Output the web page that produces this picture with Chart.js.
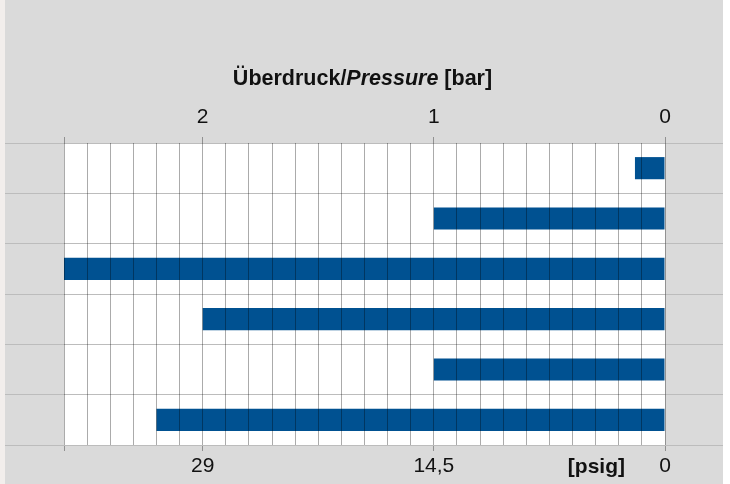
<!DOCTYPE html>
<html>
<head>
<meta charset="utf-8">
<script src="https://cdn.jsdelivr.net/npm/chart.js@4"></script>
<style>
  html, body { margin: 0; padding: 0; background: #fff; }
  #wrap { width: 730px; height: 484px; }
</style>
</head>
<body>
<div id="wrap"><canvas id="pressureChart" width="730" height="484"></canvas></div>
<script>
// Overpressure per row, in bar
const rows = ['1', '2', '3', '4', '5', '6'];
const pressureBar = [0.13, 1.0, 2.6, 2.0, 1.0, 2.2];

// Axis range and the labelled ticks (bar on top, psig below)
const barMin = 0;
const barMax = 2.6;
const barStep = 0.1;
const barTicks = [0, 1, 2];
const psigTicks = ['0', '14,5', '29'];

const FONT = '"Liberation Sans", Arial, Helvetica, sans-serif';
const GRID = 'rgba(0, 0, 0, 0.33)';
const ROW_LINE = '#bcbcbc';
const TICK = '#909090';

Chart.defaults.font.family = FONT;
Chart.defaults.font.size = 21;
Chart.defaults.color = '#111';

function tickIndex(v) {
    return barTicks.findIndex(t => Math.abs(t - v) < 1e-6);
}

function isMarked(v) {
    return tickIndex(v) >= 0 || Math.abs(v - barMin) < 1e-6 || Math.abs(v - barMax) < 1e-6;
}

// Page background, white plot area, title and unit label
const decorations = {
    id: 'decorations',
    beforeDraw(chart) {
        const { ctx, chartArea } = chart;
        const left = chart.scales.y.left;
        const right = chart.scales.y2.right;
        ctx.save();
        ctx.fillStyle = '#f2eeec';
        ctx.fillRect(0, 0, left, chart.height);
        ctx.fillStyle = '#dadada';
        ctx.fillRect(left, 0, right - left, chart.height);
        ctx.fillStyle = '#ffffff';
        ctx.fillRect(chartArea.left, chartArea.top, chartArea.width, chartArea.height);
        ctx.restore();
    },
    afterDraw(chart) {
        const { ctx, chartArea } = chart;
        ctx.save();
        ctx.fillStyle = '#111';
        ctx.textBaseline = 'alphabetic';

        const parts = [
            { text: 'Überdruck/', font: 'bold 21.5px ' + FONT },
            { text: 'Pressure', font: 'italic bold 21.5px ' + FONT },
            { text: ' [bar]', font: 'bold 21.5px ' + FONT }
        ];
        let total = 0;
        parts.forEach(p => {
            ctx.font = p.font;
            p.width = ctx.measureText(p.text).width;
            total += p.width;
        });
        let x = (chartArea.left + chartArea.right) / 2 - total / 2 - 2;
        const titleY = chartArea.top - 58;
        ctx.textAlign = 'left';
        parts.forEach(p => {
            ctx.font = p.font;
            ctx.fillText(p.text, x, titleY);
            x += p.width;
        });

        const x2 = chart.scales.x2;
        ctx.font = 'bold 21px ' + FONT;
        ctx.textAlign = 'right';
        ctx.fillText('[psig]', x2.getPixelForValue(0) - 40, x2.top + 28);
        ctx.restore();
    }
};

new Chart(document.getElementById('pressureChart'), {
    type: 'bar',
    data: {
        labels: rows,
        datasets: [{
            data: pressureBar,
            backgroundColor: '#005191',
            borderWidth: 0,
            categoryPercentage: 1,
            barPercentage: 0.44,
            xAxisID: 'x',
            yAxisID: 'y'
        }]
    },
    options: {
        indexAxis: 'y',
        responsive: false,
        devicePixelRatio: 1,
        animation: false,
        layout: { padding: { top: 0, bottom: 0, left: 5, right: 7 } },
        plugins: {
            legend: { display: false },
            tooltip: { enabled: false }
        },
        scales: {
            x: {
                type: 'linear',
                position: 'top',
                reverse: true,
                min: barMin,
                max: barMax,
                border: { display: false },
                grid: {
                    z: 1,
                    color: GRID,
                    lineWidth: 1,
                    drawTicks: true,
                    tickLength: 6,
                    tickColor: ctx => isMarked(ctx.tick.value) ? TICK : 'transparent'
                },
                ticks: {
                    stepSize: barStep,
                    autoSkip: false,
                    maxRotation: 0,
                    padding: 7,
                    callback: value => tickIndex(value) >= 0 ? String(barTicks[tickIndex(value)]) : ''
                },
                afterFit: scale => { scale.height = 143; }
            },
            x2: {
                type: 'linear',
                position: 'bottom',
                reverse: true,
                min: barMin,
                max: barMax,
                border: { display: false },
                grid: {
                    drawOnChartArea: false,
                    drawTicks: true,
                    tickLength: 6,
                    tickColor: ctx => isMarked(ctx.tick.value) ? TICK : 'transparent'
                },
                ticks: {
                    stepSize: barStep,
                    autoSkip: false,
                    maxRotation: 0,
                    padding: 3,
                    callback: value => tickIndex(value) >= 0 ? psigTicks[tickIndex(value)] : ''
                },
                afterFit: scale => { scale.height = 39; }
            },
            y: {
                type: 'category',
                position: 'left',
                offset: true,
                border: { display: false },
                grid: {
                    offset: true,
                    color: ROW_LINE,
                    tickColor: ROW_LINE,
                    tickLength: 59
                },
                ticks: { display: false },
                afterFit: scale => { scale.width = 59; }
            },
            y2: {
                type: 'category',
                position: 'right',
                offset: true,
                border: { display: false },
                grid: {
                    offset: true,
                    drawOnChartArea: false,
                    tickColor: ROW_LINE,
                    tickLength: 58
                },
                ticks: { display: false },
                afterFit: scale => { scale.width = 58; }
            }
        }
    },
    plugins: [decorations]
});
</script>
</body>
</html>
